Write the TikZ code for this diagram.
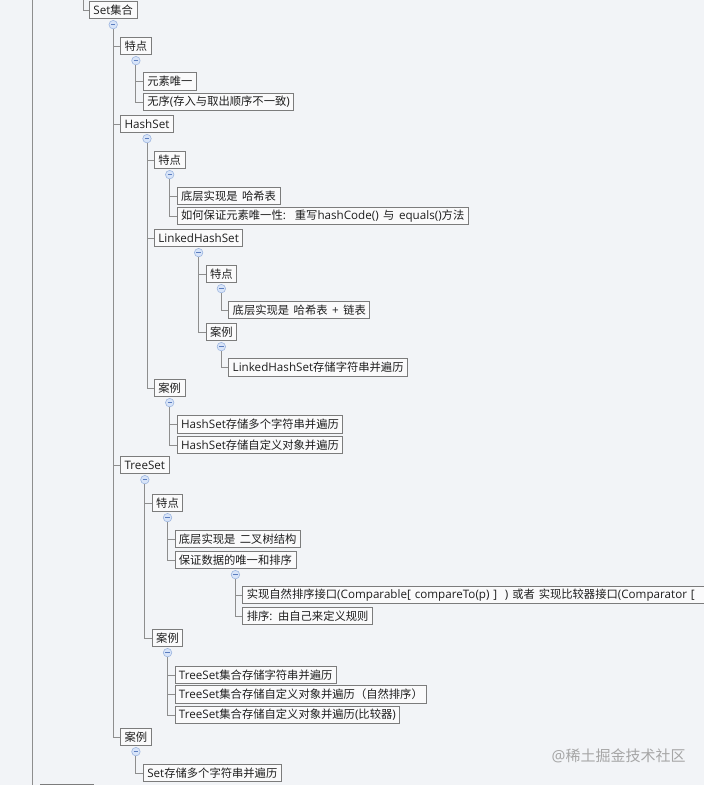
\documentclass[tikz,border=0pt]{standalone}
\usepackage{fontspec}
\setmainfont{Open Sans}[Scale=1.03]
\newfontfamily\cjkfont{Noto Sans CJK SC}
% automatic switch to the CJK font for CJK characters
\XeTeXinterchartokenstate=1
\newXeTeXintercharclass\cjkcls
\newcount\cjkc
\def\setcjkrange#1#2{\cjkc=#1\relax
  \loop \XeTeXcharclass\cjkc=\cjkcls \ifnum\cjkc<#2\relax \advance\cjkc by 1 \repeat}
\setcjkrange{"3000}{"303F}
\setcjkrange{"4E00}{"9FFF}
\setcjkrange{"FF00}{"FFEF}
\XeTeXinterchartoks 0 \cjkcls = {\cjkfont}
\XeTeXinterchartoks 4095 \cjkcls = {\cjkfont}
\XeTeXinterchartoks \cjkcls 0 = {\normalfont}
\XeTeXinterchartoks \cjkcls 4095 = {\normalfont}
\newcommand\mynodefont{\fontsize{11.3pt}{13pt}\selectfont\spaceskip=4.5pt plus 0.5pt minus 0.5pt\relax}
\definecolor{bg}{HTML}{F2F4F7}
\definecolor{ln}{HTML}{8E8E8E}
\definecolor{bx}{HTML}{7C7C7C}
\definecolor{bxf}{HTML}{FAFAFB}
\definecolor{icf}{HTML}{D8E4F8}
\definecolor{icd}{HTML}{9DB6E0}
\definecolor{icm}{HTML}{5B7DBF}
\definecolor{txt}{HTML}{1E1E1E}
\begin{document}
\begin{tikzpicture}[x=1pt,y=-1pt]
\tikzset{
  box/.style={draw=bx, fill=bxf, line width=0.8pt, anchor=west, inner xsep=4pt,
    inner ysep=0pt, minimum height=17.5pt, text=txt, font=\mynodefont},
  conn/.style={draw=ln, line width=0.9pt},
  tog/.style={circle, draw=icd, fill=icf, minimum size=8.5pt, inner sep=0pt, line width=0.6pt,
    path picture={\draw[icm, line width=0.7pt]
      ([xshift=-2.2pt]path picture bounding box.center) -- ([xshift=2.2pt]path picture bounding box.center);}},
  wmark/.style={anchor=west, text=black!35, font=\fontsize{15pt}{18pt}\selectfont}
}
\fill[bg] (0,0) rectangle (704,785);
\useasboundingbox (0,0) rectangle (704,785);

% frame lines at left
\coordinate (l1) at (32,0);
\coordinate (l2) at (32,785);
\draw[conn] (l1) -- (l2);
\draw[draw=bx, line width=0.8pt] (40,784.3) -- (94,784.3);
\coordinate (top) at (83,0);

% root
\node[box] (set) at (89,10) {Set集合};
\node[tog] (tset) at ([yshift=-5.5pt]set.south) {};
\draw[conn] (top) |- (set.west);

% level 1
\node[box] (td1) at ([xshift=7pt]tset.center |- 0,46) {特点};
\node[box] (hs) at ([xshift=7pt]tset.center |- 0,124) {HashSet};
\node[box] (ts) at ([xshift=7pt]tset.center |- 0,465) {TreeSet};
\node[box] (al) at ([xshift=7pt]tset.center |- 0,737) {案例};
\foreach \c in {td1,hs,ts,al} \draw[conn] (tset.south) |- (\c.west);

% Set 特点
\node[tog] (t1) at ([yshift=-5.5pt]td1.south) {};
\node[box] (a1) at ([xshift=7pt]t1.center |- 0,81.5) {元素唯一};
\node[box] (a2) at ([xshift=7pt]t1.center |- 0,102) {无序(存入与取出顺序不一致)};
\foreach \c in {a1,a2} \draw[conn] (t1.south) |- (\c.west);

% HashSet
\node[tog] (ths) at ([yshift=-5.5pt]hs.south) {};
\node[box] (hstd) at ([xshift=7pt]ths.center |- 0,160) {特点};
\node[box] (lhs) at ([xshift=7pt]ths.center |- 0,238) {LinkedHashSet};
\node[box] (hsal) at ([xshift=7pt]ths.center |- 0,388) {案例};
\foreach \c in {hstd,lhs,hsal} \draw[conn] (ths.south) |- (\c.west);

\node[tog] (t2) at ([yshift=-5.5pt]hstd.south) {};
\node[box] (b1) at ([xshift=7pt]t2.center |- 0,196) {底层实现是 哈希表};
\node[box] (b2) at ([xshift=7pt]t2.center |- 0,216) {如何保证元素唯一性:\ \ 重写hashCode() 与 equals()方法};
\foreach \c in {b1,b2} \draw[conn] (t2.south) |- (\c.west);

\node[tog] (tlhs) at ([yshift=-5.5pt]lhs.south) {};
\node[box] (lhstd) at ([xshift=7pt]tlhs.center |- 0,274) {特点};
\node[box] (lhsal) at ([xshift=7pt]tlhs.center |- 0,332) {案例};
\foreach \c in {lhstd,lhsal} \draw[conn] (tlhs.south) |- (\c.west);

\node[tog] (t3) at ([yshift=-5.5pt]lhstd.south) {};
\node[box] (d1) at ([xshift=7pt]t3.center |- 0,310) {底层实现是 哈希表 + 链表};
\draw[conn] (t3.south) |- (d1.west);

\node[tog] (t4) at ([yshift=-5.5pt]lhsal.south) {};
\node[box] (d2) at ([xshift=7pt]t4.center |- 0,367.5) {LinkedHashSet存储字符串并遍历};
\draw[conn] (t4.south) |- (d2.west);

\node[tog] (t5) at ([yshift=-5.5pt]hsal.south) {};
\node[box] (e1) at ([xshift=7pt]t5.center |- 0,424.5) {HashSet存储多个字符串并遍历};
\node[box] (e2) at ([xshift=7pt]t5.center |- 0,445) {HashSet存储自定义对象并遍历};
\foreach \c in {e1,e2} \draw[conn] (t5.south) |- (\c.west);

% TreeSet
\node[tog] (tts) at ([yshift=-5.5pt]ts.south) {};
\node[box] (tstd) at ([xshift=7pt]tts.center |- 0,503) {特点};
\node[box] (tsal) at ([xshift=7pt]tts.center |- 0,638) {案例};
\foreach \c in {tstd,tsal} \draw[conn] (tts.south) |- (\c.west);

\node[tog] (t6) at ([yshift=-5.5pt]tstd.south) {};
\node[box] (f1) at ([xshift=7pt]t6.center |- 0,539) {底层实现是 二叉树结构};
\node[box] (f2) at ([xshift=7pt]t6.center |- 0,560) {保证数据的唯一和排序};
\foreach \c in {f1,f2} \draw[conn] (t6.south) |- (\c.west);

\node[tog] (t7) at ([yshift=-5.5pt]f2.south) {};
\node[box, text width=470pt] (g1) at ([xshift=7pt]t7.center |- 0,595)
  {\mbox{实现自然排序接口(Comparable[ compareTo(p) ]\ \ ) 或者 实现比较器接口(Comparator [}};
\node[box] (g2) at ([xshift=7pt]t7.center |- 0,616) {排序: 由自己来定义规则};
\foreach \c in {g1,g2} \draw[conn] (t7.south) |- (\c.west);

\node[tog] (t8) at ([yshift=-5.5pt]tsal.south) {};
\node[box] (h1) at ([xshift=7pt]t8.center |- 0,675) {TreeSet集合存储字符串并遍历};
\node[box] (h2) at ([xshift=7pt]t8.center |- 0,694.5) {TreeSet集合存储自定义对象并遍历（自然排序）};
\node[box] (h3) at ([xshift=7pt]t8.center |- 0,715) {TreeSet集合存储自定义对象并遍历(比较器)};
\foreach \c in {h1,h2,h3} \draw[conn] (t8.south) |- (\c.west);

% Set 案例
\node[tog] (t9) at ([yshift=-5.5pt]al.south) {};
\node[box] (i1) at ([xshift=7pt]t9.center |- 0,773) {Set存储多个字符串并遍历};
\draw[conn] (t9.south) |- (i1.west);

% watermark
\node[wmark] (wm) at (548,756) {@稀土掘金技术社区};
\end{tikzpicture}
\end{document}
